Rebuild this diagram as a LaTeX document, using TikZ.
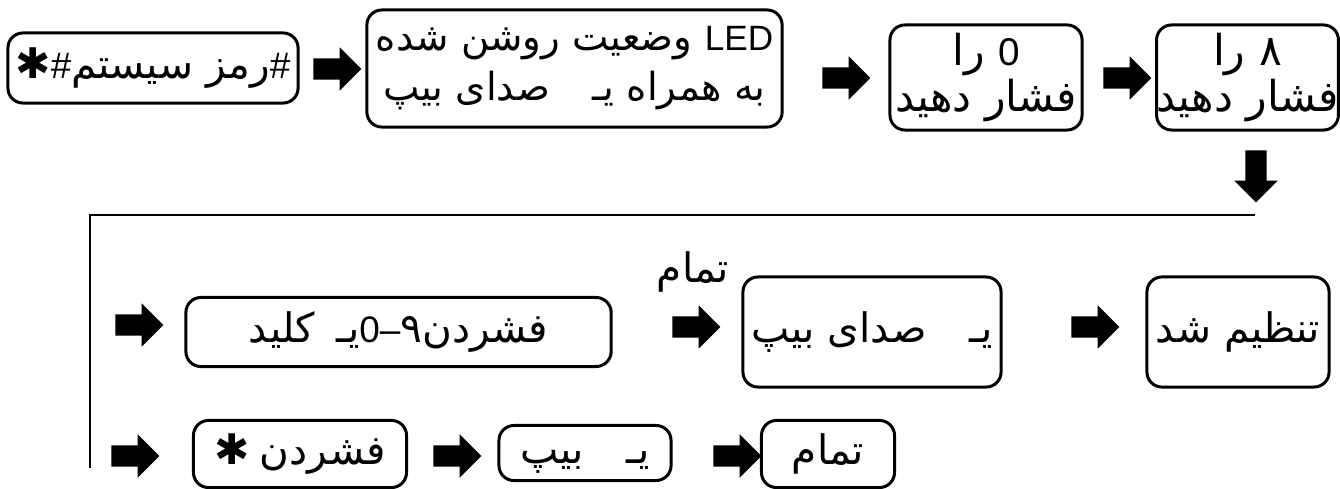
\documentclass[tikz,border=0pt]{standalone}
\usepackage{fontspec}
\setmainfont{Liberation Sans}
\newfontfamily\fafont[Script=Arabic,Scale=1.1]{DejaVu Sans}
\newfontfamily\symfont{DejaVu Sans}
\TeXXeTstate=1
\newcommand{\fatext}[1]{{\fafont\beginR #1\endR}}
\newcommand{\yeh}{یـ}
\usetikzlibrary{shapes,arrows,calc,positioning}
\tikzset{
        box/.style = {draw, rounded corners=0.15cm, line width=0.85pt,
            inner sep=0pt, align=center},
        oneline/.style = {text height=0.25cm, text depth=0.05cm},
        barrow/.style = {single arrow, fill=black, inner xsep=0pt, inner ysep=0.1cm,
            minimum height=0.48cm, single arrow head extend=0.11cm},
        darrow/.style = {barrow, shape border rotate=270, inner xsep=0.1cm,
            inner ysep=0pt, minimum height=0.52cm},
        wire/.style = {draw, line width=0.85pt},
        twoline/.style = {font=\fontsize{11}{11.6}\selectfont},
    }

\begin{document}
\begin{tikzpicture}[x=0.01cm, y=-0.01cm, font=\fontsize{10.5}{14.2}\selectfont]
    \useasboundingbox (0,0) rectangle (1340,488);

    % first row
    \node[box, oneline, minimum width=2.90cm, minimum height=0.70cm] (b1) at (153,68)
        {{\symfont\large ✱}\#\fatext{رمز سیستم}\#};
    \node[barrow] (r1) at (332,69) {};
    \node[box, font=\fontsize{10}{14.2}\selectfont, minimum width=4.15cm,
        minimum height=1.17cm] (b2) at (574.5,68.5)
        {\fatext{{\rmfamily LED} وضعیت روشن شده}\\
         \fatext{به همراه \yeh\hspace{0.3cm} صدای بیپ}};
    \node[barrow] (r2) at (841,78) {};
    \node[box, twoline, minimum width=1.92cm, minimum height=1.05cm] (b3) at (986,77.5)
        {\fatext{{\rmfamily 0} را}\\ \fatext{فشار دهید}};
    \node[barrow] (r3) at (1122,78) {};
    \node[box, twoline, minimum width=1.81cm, minimum height=1.05cm] (b4) at (1247.5,77.5)
        {\fatext{۸ را}\\ \fatext{فشار دهید}};
    \node[darrow] (r0) at (1256,171) {};

    % return line
    \coordinate (lend) at (1255,215);
    \coordinate (lcorner) at (90,215);
    \coordinate (lfoot) at (90,468);
    \draw[wire] (lend) -- (lcorner) -- (lfoot);

    % second row
    \node[barrow] (r4) at (134,325) {};
    \node[box, oneline, minimum width=4.25cm, minimum height=0.69cm] (b5) at (398.5,332)
        {\fatext{کلید}\hspace{0.21cm}\fatext{\yeh}0–{\fafont ۹}\fatext{فشردن}};
    \node (done) at (693,272) {\fatext{تمام}};
    \node[barrow] (r5) at (691,327) {};
    \node[box, oneline, minimum width=2.58cm, minimum height=1.10cm] (b6) at (872,332)
        {\fatext{\yeh\hspace{0.3cm} صدای بیپ}};
    \node[barrow] (r6) at (1090,327) {};
    \node[box, oneline, minimum width=1.82cm, minimum height=1.10cm] (b7) at (1238,332)
        {\fatext{تنظیم شد}};

    % third row
    \node[barrow] (r7) at (130,456) {};
    \node[box, oneline, minimum width=2.13cm, minimum height=0.67cm] (b8) at (300,454)
        {{\symfont\large ✱}~\fatext{فشردن}};
    \node[barrow] (r8) at (452,456) {};
    \node[box, oneline, minimum width=1.72cm, minimum height=0.55cm] (b9) at (585,453)
        {\fatext{\yeh\hspace{0.3cm} بیپ}};
    \node[barrow] (r9) at (732,456) {};
    \node[box, oneline, minimum width=1.33cm, minimum height=0.67cm] (b10) at (828,454)
        {\fatext{تمام}};
\end{tikzpicture}
\end{document}
